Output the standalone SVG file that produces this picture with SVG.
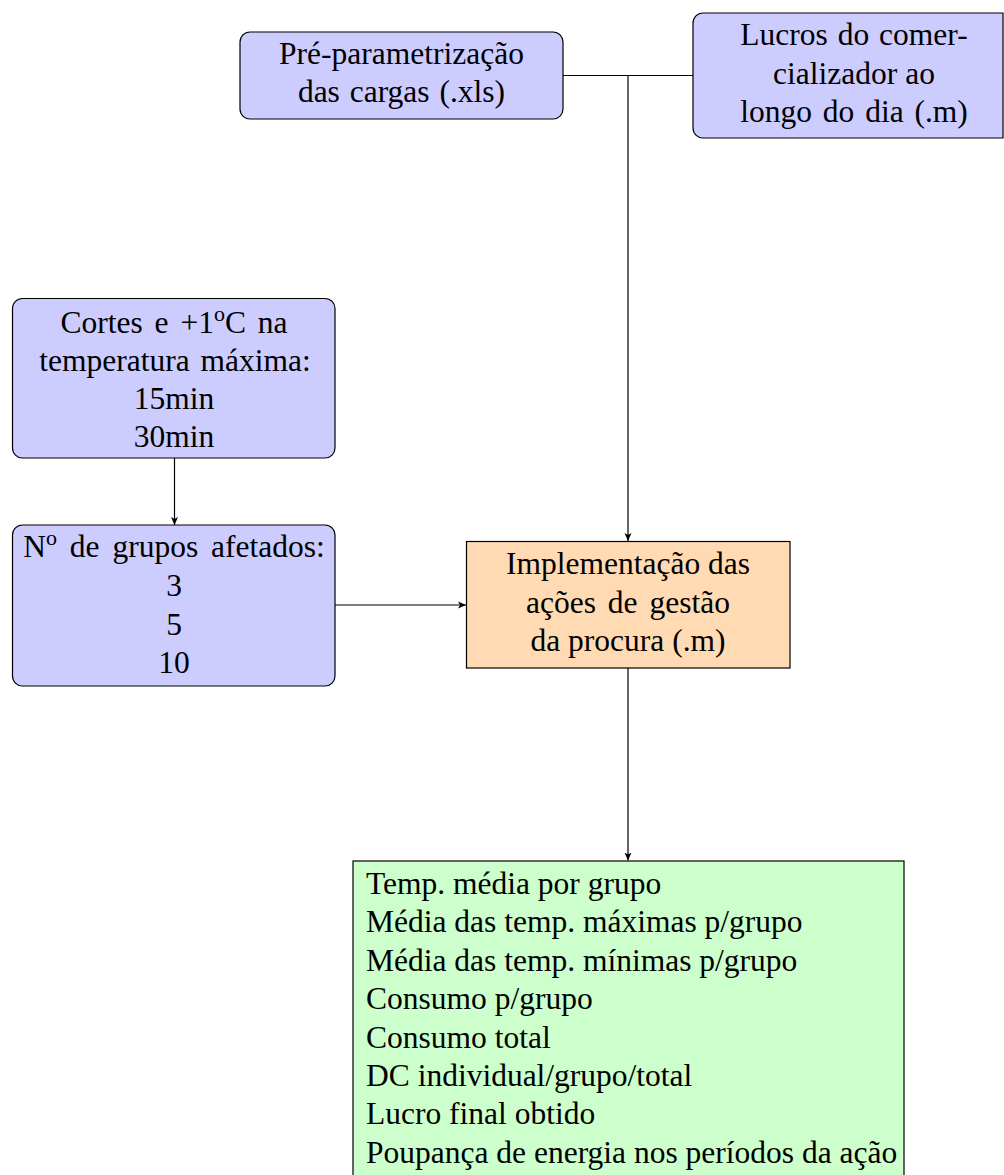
<svg xmlns="http://www.w3.org/2000/svg" width="1004" height="1175" viewBox="0 0 1004 1175">
<style>
  .blue { fill: #CCCCFF; stroke: #000; stroke-width: 1.2; }
  .orange { fill: #FFDAB3; stroke: #000; stroke-width: 1.2; }
  .green { fill: #CCFFCC; stroke: #000; stroke-width: 1.2; }
  text { font-family: "Liberation Serif", "Times New Roman", serif; font-size: 31.5px; fill: #000; }
  .c { text-anchor: middle; }
  .l { text-anchor: start; }
  .edge { fill: none; stroke: #000; stroke-width: 1.2; }
</style>
<defs>
  <marker id="arr" markerUnits="userSpaceOnUse" markerWidth="10" markerHeight="10" refX="8" refY="4" orient="auto">
    <path d="M0,0.5 L8,4 L0,7.5 L2,4 z" fill="#000"/>
  </marker>
</defs>
<rect width="1004" height="1175" fill="#fff"/>

<g id="connectors">
  <path class="edge" d="M563,75.5 H693"/>
  <path class="edge" d="M628,75.5 V541" marker-end="url(#arr)"/>
  <path class="edge" d="M174.5,458 V525" marker-end="url(#arr)"/>
  <path class="edge" d="M335,605 H466" marker-end="url(#arr)"/>
  <path class="edge" d="M628,668 V860.5" marker-end="url(#arr)"/>
</g>

<g id="node-preparam">
  <rect class="blue" x="240" y="32" width="323" height="87" rx="10" ry="10"/>
  <text class="c" x="401.5" y="63.5">Pré-parametrização</text>
  <text class="c" x="401.5" y="102" word-spacing="2">das cargas (.xls)</text>
</g>

<g id="node-lucros">
  <path class="blue" d="M703,13 H1003 V138 H703 A10,10 0 0 1 693,128 V23 A10,10 0 0 1 703,13 Z"/>
  <text class="c" x="854" y="45" word-spacing="2">Lucros do comer-</text>
  <text class="c" x="854" y="83.5">cializador ao</text>
  <text class="c" x="854" y="122" word-spacing="3">longo do dia (.m)</text>
</g>

<g id="node-cortes">
  <rect class="blue" x="12.5" y="298.5" width="322.5" height="159.5" rx="10" ry="10"/>
  <text class="c" x="174" y="332.5" word-spacing="4">Cortes e +1<tspan font-size="22" dy="-12">o</tspan><tspan dy="12">C na</tspan></text>
  <text class="c" x="175" y="370.5" word-spacing="3">temperatura máxima:</text>
  <text class="c" x="174" y="408.5">15min</text>
  <text class="c" x="174" y="447">30min</text>
</g>

<g id="node-grupos">
  <rect class="blue" x="12.5" y="525" width="322.5" height="161" rx="10" ry="10"/>
  <text class="c" x="174" y="557" word-spacing="5">N<tspan font-size="22" dy="-12">o</tspan><tspan dy="12"> de grupos afetados:</tspan></text>
  <text class="c" x="174" y="596">3</text>
  <text class="c" x="174" y="634.5">5</text>
  <text class="c" x="174" y="673">10</text>
</g>

<g id="node-implementacao">
  <rect class="orange" x="466.5" y="541.5" width="323.5" height="126.5"/>
  <text class="c" x="628" y="574">Implementação das</text>
  <text class="c" x="628" y="612.5" word-spacing="4">ações de gestão</text>
  <text class="c" x="628" y="651">da procura (.m)</text>
</g>

<g id="node-resultados">
  <rect class="green" x="353" y="861" width="551" height="330"/>
  <text class="l" x="366" y="894">Temp. média por grupo</text>
  <text class="l" x="366" y="932.4">Média das temp. máximas p/grupo</text>
  <text class="l" x="366" y="970.8">Média das temp. mínimas p/grupo</text>
  <text class="l" x="366" y="1009.2">Consumo p/grupo</text>
  <text class="l" x="366" y="1047.6">Consumo total</text>
  <text class="l" x="366" y="1086">DC individual/grupo/total</text>
  <text class="l" x="366" y="1124.4">Lucro final obtido</text>
  <text class="l" x="366" y="1162.8">Poupança de energia nos períodos da ação</text>
</g>
</svg>
